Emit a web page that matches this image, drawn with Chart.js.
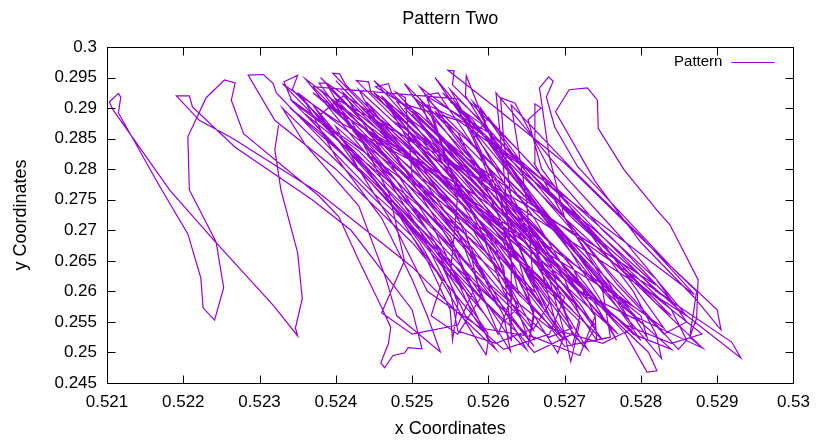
<!DOCTYPE html>
<html><head><meta charset="utf-8">
<script src="https://cdn.jsdelivr.net/npm/chart.js@4/dist/chart.umd.min.js"></script>
<style>html,body{margin:0;padding:0;background:#fff}#wrap{width:819px;height:440px}</style>
</head><body><div id="wrap"><canvas id="c" width="819" height="440"></canvas></div>
<script>
const chartTitle = 'Pattern Two';
const seriesLabel = 'Pattern';
const xAxisTitle = 'x Coordinates';
const yAxisTitle = 'y Coordinates';
const xTicks = [0.521,0.522,0.523,0.524,0.525,0.526,0.527,0.528,0.529,0.53];
const yTicks = [0.245,0.25,0.255,0.26,0.265,0.27,0.275,0.28,0.285,0.29,0.295,0.3];

const xValues = [
0.52325,0.5232,0.52328,0.5235,0.52356,0.52347,0.5235,0.52318,0.5224,0.52182,
0.52108,0.52103,0.52115,0.52118,0.52115,0.52169,0.52206,0.52223,0.52226,0.52241,
0.52253,0.52243,0.52208,0.52206,0.5223,0.52254,0.52268,0.52263,0.52279,0.52378,
0.52404,0.5243,0.5246,0.52472,0.52469,0.52459,0.52464,0.52475,0.5249,0.52495,
0.52513,0.525,0.5242,0.52369,0.52268,0.52212,0.52208,0.52191,0.52221,0.52264,
0.52378,0.525,0.5258,0.5261,0.5258,0.525,0.524,0.5232,0.52285,0.52305,
0.52318,0.52322,0.5245,0.5262,0.5266,0.5263,0.5254,0.5243,0.52343,0.52332,
0.5235,0.52343,0.5248,0.5259,0.5268,0.5271,0.5264,0.5253,0.5244,0.52396,
0.52405,0.52413,0.525,0.5263,0.5272,0.52708,0.527,0.5262,0.5252,0.52427,
0.52443,0.52446,0.5257,0.5267,0.5276,0.5281,0.52821,0.52808,0.5278,0.527,
0.5259,0.5251,0.52452,0.52469,0.52473,0.5258,0.5268,0.5279,0.52881,0.52864,
0.52873,0.5279,0.527,0.5261,0.52547,0.52555,0.52553,0.5264,0.5275,0.5285,
0.52931,0.52919,0.5282,0.5271,0.526,0.52517,0.52534,0.5258,0.5264,0.5268,
0.527,0.52691,0.5266,0.5262,0.5255,0.5246,0.52388,0.52378,0.5245,0.5252,
0.5257,0.526,0.52597,0.5257,0.5251,0.5244,0.5238,0.5241,0.525,0.5256,
0.5259,0.5261,0.52629,0.5262,0.5257,0.525,0.52491,0.52479,0.5256,0.5265,
0.5272,0.5276,0.52768,0.5274,0.5266,0.5257,0.52512,0.5252,0.526,0.5266,
0.5271,0.52742,0.5274,0.5268,0.5263,0.5262,0.52616,0.52635,0.5268,0.5275,
0.5282,0.5286,0.5283,0.5277,0.527,0.5266,0.52661,0.52669,0.52652,0.5267,
0.5273,0.5279,0.5282,0.52827,0.528,0.5273,0.5266,0.5261,0.52571,0.5257,
0.5262,0.5268,0.5274,0.5278,0.5275,0.527,0.5268,0.52667,0.52679,0.52685,
0.52676,0.52687,0.52717,0.5278,0.5284,0.529,0.52905,0.5287,0.528,0.5274,
0.52688,0.52706,0.5273,0.52743,0.52744,0.52778,0.52821,0.52838,0.52875,0.52873,
0.52864,0.52881,0.5282,0.5274,0.5266,0.5258,0.5252,0.5255,0.5259,0.5263,
0.5265,0.5258,0.5249,0.524,0.5236,0.524,0.5246,0.525,0.5252,0.52537,
0.5248,0.52466,0.5243,0.5236,0.5233,0.5242,0.525,0.5254,0.52525,0.5256,
0.5259,0.5257,0.5252,0.5248,0.5246,0.5252,0.5258,0.5263,0.5266,0.52652,
0.5266,0.5264,0.526,0.5256,0.5253,0.526,0.5266,0.527,0.5272,0.5271,
0.5268,0.5265,0.5262,0.5259,0.5257,0.5263,0.5269,0.5275,0.528,0.52808,
0.5278,0.5272,0.5265,0.526,0.5259,0.5264,0.527,0.5277,0.5282,0.5284,
0.528,0.5273,0.5265,0.5256,0.5248,0.5253,0.5257,0.5261,0.5263,0.52613,
0.5258,0.5252,0.5245,0.524,0.5237,0.5243,0.5248,0.5252,0.5255,0.52553,
0.5256,0.5253,0.5248,0.5242,0.5239,0.5245,0.5251,0.5256,0.526,0.5264,
0.52661,0.5262,0.5259,0.5255,0.5252,0.525,0.5255,0.5261,0.5267,0.5272,
0.5274,0.52725,0.527,0.5266,0.5263,0.526,0.5258,0.526,0.5265,0.5271,
0.5278,0.5284,0.5286,0.52849,0.5281,0.5276,0.527,0.5264,0.5259,0.5256,
0.5237,0.5249,0.5259,0.5266,0.5261,0.5248,0.5234,0.5246,0.5255,0.5262,
0.5264,0.5258,0.5248,0.524,0.5252,0.5262,0.527,0.5268,0.5262,0.5249,
0.5236,0.5246,0.5253,0.5259,0.5255,0.5247,0.5243,0.5256,0.5266,0.5274,
0.5267,0.5253,0.5239,0.5249,0.5258,0.5265,0.5263,0.5262,0.5254,0.5246,
0.5258,0.5269,0.5277,0.527,0.5252,0.524,0.5233,0.5244,0.5253,0.526,
0.5258,0.5253,0.5246,0.5241,0.5252,0.5261,0.5268,0.5263,0.5255,0.5249,
0.5261,0.5271,0.528,0.5272,0.5257,0.5244,0.5254,0.5263,0.5271,0.5262,
0.5248,0.5235,0.5243,0.5251,0.5257,0.5255,0.5256,0.5252,0.5262,0.5271,
0.5279,0.5268,0.5252,0.5242,0.5238,0.5249,0.5259,0.5267,0.5262,0.5247,
0.5256,0.5266,0.5273,0.5271,0.5268,0.5261,0.5255,0.5265,0.5275,0.5283,
0.5274,0.5258,0.5242,0.525,0.5258,0.5264,0.5262,0.525,0.526,0.5269,
0.5276,0.527,0.5263,0.5258,0.5267,0.5276,0.5284,0.5276,0.5258,0.5245,
0.5254,0.5264,0.5272,0.5266,0.5258,0.5253,0.5263,0.5272,0.528,0.5278,
0.5268,0.5252,0.5241,0.5236,0.5245,0.5255,0.5263,0.5263,0.5262,0.5261,
0.527,0.5278,0.5286,0.5276,0.526,0.5248,0.5256,0.5263,0.5269,0.5266,
0.526,0.5256,0.5265,0.5274,0.5282,0.5272,0.5254,0.524,0.5248,0.5258,
0.5266,0.5265,0.5263,0.5271,0.528,0.5287,0.5278,0.5262,0.5251,0.5259,
0.5267,0.5275,0.5266,0.525,0.5238,0.5245,0.5254,0.5261,0.5256,0.5244,
0.5253,0.5263,0.527,
0.5268,0.5262,0.5257,0.5254,0.5246,0.5238,0.5234,0.5244,0.5253,0.5259,
0.5264,0.5266,0.5271,0.5269,0.5264,0.5256,0.5249,0.5258,0.5267,0.5274,
0.5279,0.5284,0.5279,0.5273,0.5266,0.5257,0.525,0.5259,0.5266,0.5271,
0.5274,0.5272,0.5266,0.5259,0.5252,0.5248,0.5243,0.524,0.5248,0.5255,
0.5258,0.5256,0.525,0.5246,0.5249,0.5247,0.5242,0.5239,0.5247,0.5255,
0.5261,0.5267,0.527,0.5276,0.5275,0.527,0.5263,0.5258,0.5254,0.5262,
0.527,0.5277,0.5283,0.5288,0.5284,0.5278,0.5272,0.5266,0.5259,0.5251,
0.5245,0.5252,0.5259,0.5264,0.5268,0.5266,0.5261,0.5256,0.5255,0.5251,
0.5246,0.5241,0.5237,0.5245,0.5252,0.5258,0.5263,0.5268,0.5275,0.5279,
0.5276,0.5271,0.5264,0.5259,0.5255
];
const yValues = [
0.2872,0.2832,0.2766,0.2663,0.2588,0.254,0.2527,0.2577,0.2684,0.2766,
0.2897,0.291,0.2924,0.2918,0.2892,0.2772,0.2694,0.2622,0.2573,0.2553,
0.2606,0.2681,0.2766,0.2853,0.2917,0.2946,0.2941,0.2913,0.2858,0.2756,
0.2722,0.2651,0.2574,0.2541,0.2515,0.2483,0.2475,0.2495,0.2499,0.2508,
0.2506,0.257,0.27,0.275,0.2836,0.2902,0.292,0.292,0.288,0.2851,
0.2761,0.264,0.254,0.2505,0.256,0.268,0.28,0.288,0.2954,0.2955,
0.294,0.2925,0.276,0.257,0.251,0.256,0.269,0.283,0.291,0.2943,
0.2954,0.293,0.276,0.2625,0.2525,0.254,0.266,0.28,0.29,0.2957,
0.2956,0.2938,0.283,0.266,0.255,0.2485,0.253,0.269,0.283,0.2945,
0.2943,0.2925,0.279,0.267,0.256,0.25,0.247,0.2468,0.253,0.264,
0.279,0.289,0.2935,0.294,0.2925,0.28,0.268,0.256,0.2507,0.2525,
0.26,0.27,0.281,0.29,0.2962,0.2961,0.2938,0.283,0.268,0.257,
0.2491,0.2517,0.26,0.274,0.286,0.2921,0.2925,0.284,0.273,0.262,
0.253,0.2499,0.256,0.268,0.28,0.288,0.2941,0.2941,0.282,0.27,
0.26,0.252,0.2496,0.255,0.268,0.28,0.289,0.292,0.281,0.27,
0.26,0.254,0.2502,0.256,0.268,0.279,0.2917,0.2926,0.282,0.27,
0.26,0.254,0.252,0.258,0.27,0.282,0.2913,0.288,0.276,0.266,
0.258,0.252,0.256,0.266,0.275,0.285,0.2917,0.2908,0.28,0.27,
0.262,0.255,0.253,0.261,0.272,0.281,0.2907,0.29,0.2881,0.28,
0.27,0.26,0.253,0.249,0.253,0.263,0.274,0.283,0.2953,0.292,
0.282,0.272,0.264,0.256,0.262,0.272,0.282,0.2933,0.2951,0.2944,
0.2918,0.2869,0.2804,0.272,0.264,0.257,0.2537,0.259,0.268,0.278,
0.2894,0.293,0.2933,0.2913,0.2867,0.2799,0.2733,0.2709,0.2619,0.2556,
0.2525,0.2507,0.258,0.269,0.278,0.287,0.2905,0.28,0.27,0.26,
0.253,0.262,0.274,0.285,0.291,0.282,0.272,0.262,0.256,0.2501,
0.256,0.262,0.274,0.284,0.29,0.279,0.269,0.262,0.256,0.253,
0.259,0.27,0.279,0.288,0.292,0.282,0.273,0.264,0.257,0.2509,
0.256,0.265,0.276,0.286,0.2895,0.278,0.27,0.262,0.256,0.251,
0.256,0.264,0.274,0.283,0.288,0.279,0.27,0.261,0.256,0.2525,
0.258,0.266,0.276,0.286,0.29,0.281,0.272,0.264,0.258,0.256,
0.261,0.27,0.28,0.288,0.291,0.283,0.275,0.267,0.259,0.253,
0.259,0.269,0.279,0.286,0.2905,0.28,0.273,0.265,0.257,0.252,
0.258,0.268,0.278,0.287,0.2935,0.286,0.277,0.269,0.261,0.256,
0.252,0.26,0.27,0.28,0.286,0.289,0.281,0.273,0.265,0.258,
0.254,0.251,0.255,0.262,0.27,0.279,0.285,0.2885,0.28,0.272,
0.264,0.257,0.252,0.2505,0.256,0.263,0.272,0.281,0.288,0.2915,
0.2935,0.278,0.264,0.2535,0.265,0.279,0.2915,0.276,0.264,0.255,
0.2575,0.27,0.284,0.2945,0.279,0.265,0.252,0.2545,0.262,0.276,
0.289,0.276,0.266,0.257,0.268,0.284,0.293,0.278,0.265,0.2545,
0.264,0.279,0.2905,0.279,0.266,0.2505,0.253,0.264,0.279,0.292,
0.278,0.264,0.253,0.261,0.28,0.288,0.294,0.28,0.266,0.253,
0.256,0.27,0.283,0.2925,0.279,0.267,0.256,0.27,0.283,0.294,
0.279,0.267,0.255,0.26,0.275,0.2895,0.277,0.267,0.257,0.267,
0.28,0.2925,0.281,0.27,0.26,0.2625,0.276,0.2915,0.279,0.268,
0.2575,0.266,0.28,0.29,0.295,0.281,0.269,0.258,0.27,0.2905,
0.279,0.265,0.2505,0.253,0.265,0.28,0.293,0.28,0.268,0.254,
0.262,0.276,0.288,0.278,0.269,0.2595,0.27,0.2895,0.278,0.267,
0.256,0.268,0.28,0.291,0.279,0.269,0.2585,0.265,0.281,0.2945,
0.282,0.27,0.2595,0.272,0.286,0.295,0.28,0.266,0.252,0.2545,
0.265,0.28,0.29,0.2948,0.281,0.267,0.252,0.265,0.28,0.2925,
0.279,0.268,0.256,0.264,0.277,0.2875,0.276,0.265,0.254,0.268,
0.28,0.29,0.279,0.27,0.261,0.269,0.282,0.2915,0.281,0.27,
0.26,0.275,0.2905,0.28,0.269,0.2595,0.268,0.283,0.2935,0.28,
0.266,0.252,0.263,0.28,0.293,0.282,0.27,0.258,0.272,0.291,
0.28,0.269,0.259,
0.253,0.2505,0.256,0.264,0.276,0.286,0.29,0.279,0.268,0.259,
0.253,0.25,0.253,0.26,0.27,0.281,0.29,0.279,0.268,0.259,
0.253,0.2505,0.256,0.264,0.274,0.285,0.292,0.28,0.271,0.264,
0.256,0.2495,0.2525,0.254,0.26,0.27,0.28,0.287,0.278,0.269,
0.26,0.2545,0.253,0.2565,0.265,0.276,0.288,0.292,0.283,0.272,
0.264,0.256,0.251,0.2525,0.26,0.269,0.279,0.288,0.2925,0.282,
0.272,0.264,0.258,0.253,0.2515,0.2545,0.26,0.268,0.278,0.287,
0.2925,0.283,0.273,0.265,0.258,0.254,0.2515,0.2535,0.26,0.27,
0.28,0.289,0.2925,0.284,0.275,0.267,0.259,0.254,0.2515,0.254,
0.261,0.27,0.28,0.2875,0.291
];

const FONT = '"Liberation Sans", Arial, sans-serif';
const lineColor = '#9400d3';

const framePlugin = {
  id: 'frameTicks',
  afterDatasetsDraw(chart) {
    const {ctx, chartArea: a, scales} = chart;
    ctx.save();
    ctx.strokeStyle = '#000';
    ctx.lineWidth = 1;
    ctx.beginPath();
    const L = Math.round(a.left) + 0.5, R = Math.round(a.right) + 0.5;
    const T = Math.round(a.top) + 0.5, B = Math.round(a.bottom) + 0.5;
    const tl = 8;
    xTicks.forEach(v => {
      const px = Math.round(scales.x.getPixelForValue(v)) + 0.5;
      ctx.moveTo(px, B); ctx.lineTo(px, B - tl);
      ctx.moveTo(px, T); ctx.lineTo(px, T + tl);
    });
    yTicks.forEach(v => {
      const py = Math.round(scales.y.getPixelForValue(v)) + 0.5;
      ctx.moveTo(L, py); ctx.lineTo(L + tl, py);
      ctx.moveTo(R, py); ctx.lineTo(R - tl, py);
    });
    ctx.stroke();
    ctx.strokeRect(L, T, R - L, B - T);
    const ds = chart.data.datasets[0];
    ctx.font = '15px ' + FONT;
    ctx.fillStyle = '#000';
    ctx.textAlign = 'right';
    ctx.textBaseline = 'middle';
    const ly = a.top + 15;
    ctx.fillText(ds.label, a.right - 71, ly);
    ctx.strokeStyle = ds.borderColor;
    ctx.lineWidth = 1;
    ctx.beginPath();
    ctx.moveTo(a.right - 62, Math.round(ly) + 0.5);
    ctx.lineTo(a.right - 19, Math.round(ly) + 0.5);
    ctx.stroke();
    ctx.restore();
  }
};

const fmt = v => String(+Number(v).toFixed(3));

new Chart(document.getElementById('c'), {
  type: 'scatter',
  data: {
    datasets: [{
      label: seriesLabel,
      data: xValues.map((x, i) => ({x: x, y: yValues[i]})),
      showLine: true,
      borderColor: lineColor,
      backgroundColor: lineColor,
      borderWidth: 1.2,
      pointRadius: 0,
      pointHoverRadius: 0,
      tension: 0,
      fill: false
    }]
  },
  options: {
    responsive: false,
    animation: false,
    devicePixelRatio: 1,
    layout: {padding: {left: 0, right: 22, top: 0, bottom: 0}},
    plugins: {
      legend: {display: false},
      tooltip: {enabled: false},
      title: {
        display: true, text: chartTitle, fullSize: false, color: '#000',
        font: {family: FONT, size: 18, weight: 'normal'},
        padding: {top: 8, bottom: 17.4}
      }
    },
    scales: {
      x: {
        type: 'linear', min: 0.521, max: 0.53,
        afterBuildTicks: s => { s.ticks = xTicks.map(v => ({value: v})); },
        afterFit: s => { s.height = 57; },
        grid: {display: false, drawTicks: false},
        border: {display: false},
        ticks: {color: '#000', padding: 9, maxRotation: 0, autoSkip: false,
                font: {family: FONT, size: 17}, callback: v => fmt(v)},
        title: {display: true, text: xAxisTitle, color: '#000',
                font: {family: FONT, size: 18}, padding: {top: 2, bottom: 0}}
      },
      y: {
        type: 'linear', min: 0.245, max: 0.3,
        afterBuildTicks: s => { s.ticks = yTicks.map(v => ({value: v})); },
        afterFit: s => { s.width = 107; },
        grid: {display: false, drawTicks: false},
        border: {display: false},
        ticks: {color: '#000', padding: 10, autoSkip: false,
                font: {family: FONT, size: 17}, callback: v => fmt(v)},
        title: {display: true, text: yAxisTitle, color: '#000',
                font: {family: FONT, size: 18}, padding: {top: 10, bottom: 0}}
      }
    }
  },
  plugins: [framePlugin]
});
</script>
</body></html>
